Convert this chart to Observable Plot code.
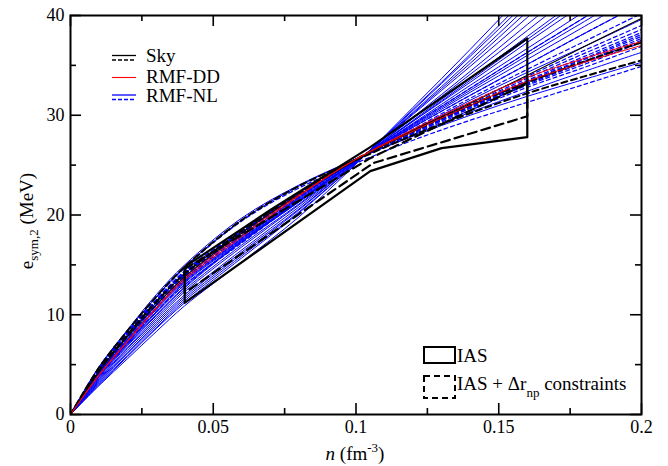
<!DOCTYPE html>
<html>
<head>
<meta charset="utf-8">
<script src="https://cdn.jsdelivr.net/npm/d3@7"></script>
<script src="https://cdn.jsdelivr.net/npm/@observablehq/plot@0.6"></script>
<style>
  html, body { margin: 0; padding: 0; background: white; }
  #chart { width: 668px; height: 466px; }
  #chart svg text, #chart svg tspan { font-family: "Liberation Serif", "Times New Roman", serif !important; }
</style>
</head>
<body>
<div id="chart"></div>
<script>
// ---- data ----
const nGrid = [0, 0.01, 0.02, 0.03, 0.04, 0.06, 0.08, 0.1, 0.12, 0.14, 0.16, 0.18, 0.2];

// RMF-NL, solid blue
const nlSolid = [
  [0,4.8,8.5,12.0,15.0,19.7,23.0,25.6,27.9,30.0,31.9,33.6,35.3],
  [0,4.7,8.4,11.8,14.8,19.5,22.9,25.6,28.0,30.3,32.4,34.4,36.3],
  [0,4.4,7.9,11.2,14.1,18.3,22.0,25.5,28.5,31.5,34.3,36.9,39.6],
  [0,4.2,7.6,10.9,13.8,17.9,21.8,25.5,28.8,32.0,35.1,38.2,41.2],
  [0,4.1,7.5,10.7,13.6,17.7,21.7,25.5,28.9,32.3,35.6,38.9,42.2],
  [0,4.1,7.4,10.6,13.4,17.6,21.6,25.4,29.0,32.5,36.0,39.4,42.8],
  [0,4.0,7.3,10.5,13.3,17.5,21.5,25.4,29.1,32.7,36.3,39.8,43.4],
  [0,3.9,7.2,10.3,13.2,17.4,21.4,25.4,29.2,33.0,36.7,40.4,44.2],
  [0,3.9,7.1,10.2,13.0,17.3,21.3,25.4,29.4,33.3,37.3,41.2,45.2],
  [0,3.8,7.0,10.0,12.8,17.4,21.4,25.4,29.4,33.5,37.6,41.7,45.7],
  [0,3.7,6.9,9.9,12.7,17.3,21.3,25.4,29.5,33.7,37.9,42.1,46.3],
  [0,3.6,6.7,9.7,12.5,17.0,21.1,25.4,29.7,34.1,38.5,43.0,47.5],
  [0,3.5,6.6,9.5,12.3,16.8,21.0,25.3,29.8,34.4,39.1,43.8,48.5],
  [0,3.4,6.4,9.3,12.0,16.5,20.8,25.3,30.1,34.9,39.8,44.9,49.9],
  [0,3.3,6.2,9.1,11.8,16.3,20.6,25.3,30.2,35.2,40.4,45.6,50.9],
  [0,3.2,6.1,8.9,11.6,16.1,20.5,25.3,30.3,35.5,40.9,46.4,51.9],
  [0,3.1,5.9,8.7,11.4,15.9,20.3,25.2,30.5,35.9,41.4,47.1,52.8],
  [0,3.0,5.8,8.6,11.2,15.7,20.2,25.2,30.6,36.1,41.9,47.7,53.6],
  [0,2.9,5.6,8.3,10.9,15.3,19.8,25.1,30.8,36.6,42.6,48.8,55.0]
];

// RMF-NL, dashed blue
const nlDashed = [
  [0,4.7,8.3,11.7,14.7,19.4,22.7,25.2,27.5,29.5,31.3,33.1,34.9],
  [0,4.6,8.2,11.5,14.4,18.5,22.3,25.6,28.1,30.5,32.8,34.8,36.9],
  [0,4.5,8.1,11.4,14.3,18.4,22.2,25.6,28.2,30.7,33.0,35.1,37.3],
  [0,4.5,8.1,11.4,14.2,18.3,22.2,25.6,28.2,30.7,33.1,35.3,37.5],
  [0,4.5,8.1,11.4,14.2,18.3,22.1,25.6,28.3,30.8,33.2,35.4,37.7],
  [0,4.4,8.0,11.3,14.2,18.2,22.1,25.5,28.3,30.9,33.3,35.6,37.9],
  [0,4.4,8.0,11.3,14.1,18.2,22.1,25.5,28.3,30.9,33.4,35.7,38.1],
  [0,4.4,8.0,11.2,14.1,18.2,22.1,25.5,28.3,31.0,33.5,35.9,38.3],
  [0,4.4,7.9,11.2,14.0,18.1,22.0,25.5,28.4,31.1,33.7,36.2,38.6],
  [0,4.3,7.8,11.1,13.9,18.0,21.9,25.5,28.5,31.3,33.9,36.5,39.0],
  [0,4.2,7.7,10.9,13.7,17.8,21.8,25.5,28.6,31.7,34.6,37.4,40.2],
  [0,4.1,7.5,10.7,13.5,17.6,21.7,25.5,28.8,32.0,35.1,38.2,41.2],
  [0,3.9,7.2,10.3,13.0,17.2,21.4,25.4,29.1,32.7,36.3,39.8,43.4]
];

// RMF-DD, red
const ddSolid = [
  [0,3.9,7.3,10.6,13.5,17.8,21.9,25.6,28.6,31.3,33.8,35.7,37.4],
  [0,4.0,7.4,10.7,13.7,18.0,22.0,25.6,28.4,31.0,33.4,35.3,37.0]
];

// Skyrme, black
const skySolid = [
  [0,4.3,7.8,11.0,13.8,18.2,22.0,25.5,28.5,31.2,34.0,36.9,39.7]
];
const skyDashed = [
  [0,4.7,8.4,11.8,14.8,19.5,22.9,25.5,28.0,30.2,32.2,33.9,35.5],
  [0,4.4,8.0,11.3,14.1,18.4,22.2,25.6,28.4,31.0,33.3,35.4,37.3]
];

// constraint regions
const iasN = [0.04, 0.07, 0.105, 0.16, 0.16, 0.13, 0.105, 0.04, 0.04];
const iasE = [14.8, 20.5, 26.8, 37.7, 27.8, 26.7, 24.4, 11.2, 14.8];
const iasDrN = [0.04, 0.105, 0.16, 0.16, 0.106, 0.04, 0.04];
const iasDrE = [14.6, 25.7, 33.2, 29.9, 25.2, 12.2, 14.6];

// ticks
const xMajor = [0, 0.05, 0.1, 0.15, 0.2];
const xMinor = [0.025, 0.075, 0.125, 0.175];
const yMajor = [0, 10, 20, 30, 40];
const yMinor = [5, 15, 25, 35];
const xTickLabels = ["0", "0.05", "0.1", "0.15", "0.2"];
const yTickLabels = ["0", "10", "20", "30", "40"];

// ---- build ----
const W = 668, H = 466, mL = 70, mR = 27, mT = 15, mB = 52;
const innerW = W - mL - mR, innerH = H - mT - mB;
const FONT = "Liberation Serif, Times New Roman, serif";

const rows = curves => curves.flatMap((vals, k) => vals.map((e, j) => ({n: nGrid[j], e, k})));
const poly = (ns, es) => ns.map((n, i) => ({n, e: es[i]}));

function decorations() {
  const g = d3.create("svg:g").attr("font-family", FONT).attr("fill", "black").attr("text-anchor", "start");
  // top-left legend
  const leg = g.append("g").attr("font-size", 19);
  const sample = (y, color, dash, w) => leg.append("line")
    .attr("x1", 112).attr("x2", 136).attr("y1", y).attr("y2", y)
    .attr("stroke", color).attr("stroke-width", w).attr("stroke-dasharray", dash);
  sample(55.5, "black", null, 1.3);
  sample(60, "black", "4,2", 1.3);
  leg.append("text").attr("x", 146).attr("y", 62).text("Sky");
  sample(77.5, "#ff0000", null, 1.1);
  leg.append("text").attr("x", 146).attr("y", 83).text("RMF-DD");
  sample(95, "#0000ff", null, 1.3);
  sample(99.5, "#0000ff", "4,2", 1.3);
  leg.append("text").attr("x", 146).attr("y", 102).text("RMF-NL");

  // bottom-right legend
  const leg2 = g.append("g").attr("font-size", 19);
  leg2.append("rect").attr("x", 424).attr("y", 347).attr("width", 31).attr("height", 16)
    .attr("fill", "none").attr("stroke", "black").attr("stroke-width", 2);
  leg2.append("text").attr("x", 457).attr("y", 361.5).text("IAS");
  leg2.append("rect").attr("x", 424).attr("y", 376).attr("width", 31).attr("height", 22)
    .attr("fill", "none").attr("stroke", "black").attr("stroke-width", 2).attr("stroke-dasharray", "6,4");
  const t2 = leg2.append("text").attr("x", 457).attr("y", 390);
  t2.append("tspan").text("IAS + \u0394r");
  t2.append("tspan").attr("dy", 7).attr("font-size", 13).text("np");
  t2.append("tspan").attr("dy", -7).text(" constraints");

  // y axis label
  const yl = g.append("text").attr("font-size", 19).attr("text-anchor", "middle")
    .attr("transform", "translate(33,221) rotate(-90)");
  yl.append("tspan").text("e");
  yl.append("tspan").attr("dy", 5).attr("font-size", 13).text("sym,2");
  yl.append("tspan").attr("dy", -5).text(" (MeV)");

  // x axis label
  const xl = g.append("text").attr("font-size", 19).attr("text-anchor", "middle")
    .attr("x", 355).attr("y", 460);
  xl.append("tspan").attr("font-style", "italic").text("n");
  xl.append("tspan").text(" (fm");
  xl.append("tspan").attr("dy", -8).attr("font-size", 13).text("-3");
  xl.append("tspan").attr("dy", 8).text(")");
  return g.node();
}

const chart = Plot.plot({
  width: W, height: H,
  marginLeft: mL, marginRight: mR, marginTop: mT, marginBottom: mB,
  style: {fontFamily: FONT, fontSize: "18px", background: "white", color: "black"},
  x: {domain: [0, 0.2], label: null},
  y: {domain: [0, 40], label: null},
  marks: [
    Plot.line(rows(nlSolid), {x: "n", y: "e", z: "k", stroke: "#0000ff", strokeWidth: 1, curve: "catmull-rom", clip: true}),
    Plot.line(rows(nlDashed), {x: "n", y: "e", z: "k", stroke: "#0000ff", strokeWidth: 1.2, strokeDasharray: "4,3", curve: "catmull-rom", clip: true}),
    Plot.line(rows(skySolid), {x: "n", y: "e", z: "k", stroke: "black", strokeWidth: 1.1, curve: "catmull-rom", clip: true}),
    Plot.line(rows(skyDashed), {x: "n", y: "e", z: "k", stroke: "black", strokeWidth: 2, strokeDasharray: "6,4", curve: "catmull-rom", clip: true}),
    Plot.line(rows(ddSolid), {x: "n", y: "e", z: "k", stroke: "#ff0000", strokeWidth: 1, curve: "catmull-rom", clip: true}),
    Plot.line(poly(iasN, iasE), {x: "n", y: "e", stroke: "black", strokeWidth: 2.2}),
    Plot.line(poly(iasDrN, iasDrE), {x: "n", y: "e", stroke: "black", strokeWidth: 2.2, strokeDasharray: "9,5"}),
    // inward ticks on all four sides
    Plot.tickX(xMajor, {insetTop: innerH - 11, stroke: "black", strokeWidth: 1.6}),
    Plot.tickX(xMajor, {insetBottom: innerH - 11, stroke: "black", strokeWidth: 1.6}),
    Plot.tickX(xMinor, {insetTop: innerH - 6, stroke: "black", strokeWidth: 1.6}),
    Plot.tickX(xMinor, {insetBottom: innerH - 6, stroke: "black", strokeWidth: 1.6}),
    Plot.tickY(yMajor, {insetRight: innerW - 11, stroke: "black", strokeWidth: 1.6}),
    Plot.tickY(yMajor, {insetLeft: innerW - 11, stroke: "black", strokeWidth: 1.6}),
    Plot.tickY(yMinor, {insetRight: innerW - 6, stroke: "black", strokeWidth: 1.6}),
    Plot.tickY(yMinor, {insetLeft: innerW - 6, stroke: "black", strokeWidth: 1.6}),
    Plot.axisX(xMajor, {anchor: "bottom", tickSize: 0, tickPadding: 6, fontSize: 18, fontFamily: FONT,
      tickFormat: d => xTickLabels[xMajor.indexOf(d)], label: null}),
    Plot.axisY(yMajor, {anchor: "left", tickSize: 0, tickPadding: 6, fontSize: 18, fontFamily: FONT,
      tickFormat: d => yTickLabels[yMajor.indexOf(d)], label: null}),
    Plot.frame({stroke: "black", strokeWidth: 2}),
    decorations
  ]
});
document.getElementById("chart").appendChild(chart);
</script>
</body>
</html>
